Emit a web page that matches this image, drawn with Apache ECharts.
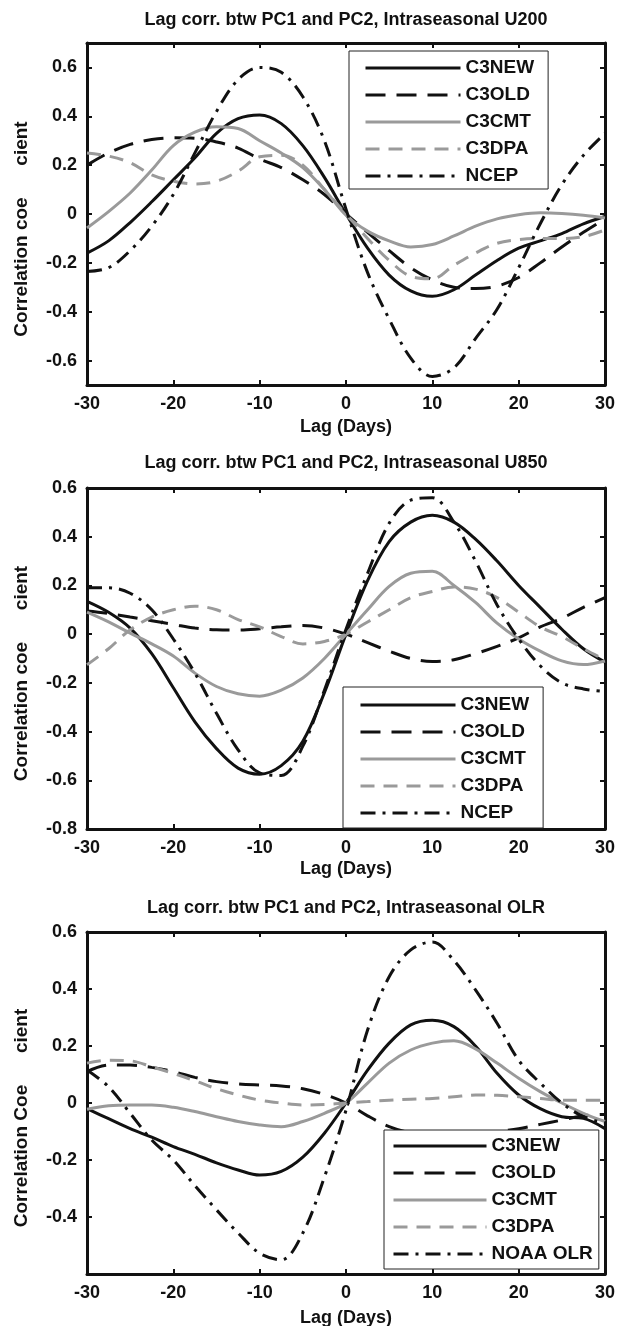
<!DOCTYPE html>
<html>
<head>
<meta charset="utf-8">
<script src="https://cdn.jsdelivr.net/npm/echarts@6/dist/echarts.min.js"></script>
<style>
html,body{margin:0;padding:0;background:#fff;}
#chart{width:617px;height:1326px;}
</style>
</head>
<body>
<div id="chart"></div>
<script>
// ---------- DATA ----------
var lags = [-30,-27.5,-25,-22.5,-20,-17.5,-15,-12.5,-10,-7.5,-5,-2.5,0,2.5,5,7.5,10,12.5,15,17.5,20,22.5,25,27.5,30];
var xTicks = [-30,-20,-10,0,10,20,30];

var titles = [
  'Lag corr. btw PC1 and PC2, Intraseasonal U200',
  'Lag corr. btw PC1 and PC2, Intraseasonal U850',
  'Lag corr. btw PC1 and PC2, Intraseasonal OLR'
];
var yNames = ['Correlation coe      cient', 'Correlation coe      cient', 'Correlation Coe      cient'];
var seriesNames1 = ['C3NEW','C3OLD','C3CMT','C3DPA','NCEP'];
var seriesNames2 = ['C3NEW','C3OLD','C3CMT','C3DPA','NCEP'];
var seriesNames3 = ['C3NEW','C3OLD','C3CMT','C3DPA','NOAA OLR'];

var yTicks1 = [-0.6,-0.4,-0.2,0,0.2,0.4,0.6];
var yTicks2 = [-0.8,-0.6,-0.4,-0.2,0,0.2,0.4,0.6];
var yTicks3 = [-0.4,-0.2,0,0.2,0.4,0.6];

// Panel 1: U200
var u200_C3NEW = [-0.16,-0.11,-0.035,0.05,0.14,0.23,0.33,0.39,0.405,0.37,0.28,0.15,0.0,-0.14,-0.25,-0.315,-0.337,-0.31,-0.25,-0.19,-0.14,-0.11,-0.08,-0.04,-0.01];
var u200_C3OLD = [0.2,0.25,0.285,0.305,0.312,0.31,0.295,0.27,0.225,0.19,0.14,0.08,0.0,-0.075,-0.15,-0.22,-0.27,-0.3,-0.305,-0.295,-0.26,-0.2,-0.135,-0.075,-0.02];
var u200_C3CMT = [-0.057,0.01,0.086,0.18,0.28,0.335,0.357,0.35,0.3,0.25,0.19,0.1,-0.005,-0.07,-0.11,-0.135,-0.125,-0.09,-0.05,-0.02,-0.003,0.005,0.002,-0.005,-0.016];
var u200_C3DPA = [0.25,0.237,0.21,0.16,0.134,0.123,0.134,0.175,0.234,0.24,0.2,0.1,0.0,-0.1,-0.19,-0.255,-0.265,-0.21,-0.16,-0.12,-0.105,-0.1,-0.1,-0.093,-0.065];
var u200_NCEP  = [-0.235,-0.22,-0.15,-0.05,0.08,0.25,0.42,0.55,0.6,0.58,0.48,0.3,0.02,-0.24,-0.43,-0.59,-0.665,-0.63,-0.51,-0.39,-0.22,-0.04,0.12,0.24,0.33];

// Panel 2: U850
var u850_C3NEW = [0.135,0.09,0.025,-0.08,-0.22,-0.36,-0.47,-0.55,-0.575,-0.54,-0.44,-0.24,0.0,0.22,0.38,0.46,0.488,0.46,0.39,0.3,0.2,0.11,0.02,-0.06,-0.115];
var u850_C3OLD = [0.095,0.085,0.07,0.055,0.04,0.025,0.018,0.017,0.022,0.03,0.035,0.025,0.0,-0.035,-0.07,-0.1,-0.112,-0.105,-0.08,-0.05,-0.015,0.03,0.065,0.11,0.15];
var u850_C3CMT = [0.09,0.05,0.004,-0.04,-0.09,-0.16,-0.215,-0.245,-0.255,-0.23,-0.18,-0.1,0.0,0.1,0.196,0.25,0.258,0.2,0.13,0.045,-0.02,-0.07,-0.11,-0.125,-0.11];
var u850_C3DPA = [-0.126,-0.06,0.018,0.07,0.1,0.115,0.1,0.06,0.03,-0.01,-0.04,-0.03,0.0,0.05,0.1,0.15,0.175,0.194,0.185,0.15,0.09,0.03,-0.01,-0.06,-0.105];
var u850_NCEP  = [0.19,0.19,0.168,0.1,-0.02,-0.16,-0.325,-0.475,-0.57,-0.58,-0.46,-0.23,0.02,0.25,0.455,0.55,0.56,0.46,0.3,0.12,-0.02,-0.13,-0.2,-0.225,-0.235];

// Panel 3: OLR
var olr_C3NEW = [-0.02,-0.055,-0.09,-0.12,-0.153,-0.18,-0.21,-0.235,-0.253,-0.24,-0.19,-0.106,0.0,0.115,0.21,0.274,0.29,0.268,0.2,0.104,0.028,-0.02,-0.048,-0.054,-0.09];
var olr_C3OLD = [0.11,0.133,0.133,0.125,0.11,0.09,0.075,0.067,0.063,0.06,0.05,0.03,0.0,-0.045,-0.083,-0.105,-0.115,-0.115,-0.11,-0.1,-0.09,-0.075,-0.06,-0.045,-0.04];
var olr_C3CMT = [-0.022,-0.01,-0.007,-0.007,-0.015,-0.03,-0.048,-0.065,-0.077,-0.083,-0.065,-0.036,0.0,0.07,0.14,0.186,0.21,0.218,0.19,0.14,0.087,0.04,0.0,-0.036,-0.065];
var olr_C3DPA = [0.14,0.15,0.148,0.127,0.104,0.078,0.05,0.028,0.01,0.0,-0.007,-0.005,0.0,0.005,0.01,0.013,0.016,0.022,0.028,0.027,0.022,0.016,0.01,0.01,0.01];
var olr_NOAA  = [0.116,0.057,-0.036,-0.13,-0.2,-0.29,-0.375,-0.456,-0.527,-0.55,-0.456,-0.26,-0.025,0.256,0.443,0.537,0.565,0.5,0.397,0.28,0.15,0.07,0.0,-0.048,-0.07];

// ---------- STYLE ----------
var FONT = '"Liberation Sans", Arial, Helvetica, sans-serif';
var BLACK = '#111111';
var GRAY = '#9a9a9a';
var styles = [
  {color: BLACK, type: 'solid'},
  {color: BLACK, type: [20, 11]},
  {color: GRAY,  type: 'solid'},
  {color: GRAY,  type: [14, 9]},
  {color: BLACK, type: [15, 7, 3, 7]}
];

var panels = [
  {top: 43, height: 342, min: -0.7, max: 0.7, ticks: yTicks1, names: seriesNames1,
   data: [u200_C3NEW,u200_C3OLD,u200_C3CMT,u200_C3DPA,u200_NCEP],
   titleTop: 11, legend: {left: 349, top: 51, padding: [7, 14, 3, 15]}, nameGap: 33},
  {top: 488, height: 341, min: -0.8, max: 0.6, ticks: yTicks2, names: seriesNames2,
   data: [u850_C3NEW,u850_C3OLD,u850_C3CMT,u850_C3DPA,u850_NCEP],
   titleTop: 454, legend: {left: 343, top: 687, padding: [8, 14, 5, 16]}, nameGap: 31},
  {top: 932, height: 342, min: -0.6, max: 0.6, ticks: yTicks3, names: seriesNames3,
   data: [olr_C3NEW,olr_C3OLD,olr_C3CMT,olr_C3DPA,olr_NOAA],
   titleTop: 899, legend: {left: 384, top: 1130, padding: [6, 6, 5, 8]}, nameGap: 35}
];

function fmt(v){ var r = Math.round(v*10)/10; return (r === 0 ? '0' : String(r)); }

var option = {
  animation: false,
  backgroundColor: '#ffffff',
  textStyle: {fontFamily: FONT},
  title: [], grid: [], xAxis: [], yAxis: [], series: [], legend: []
};

panels.forEach(function(p, i){
  option.title.push({
    text: titles[i], left: 346, top: p.titleTop, textAlign: 'center', padding: 0,
    textStyle: {fontFamily: FONT, fontSize: 18, fontWeight: 'bold', color: BLACK}
  });
  option.grid.push({left: 87, top: p.top, width: 518, height: p.height, show: false, outerBoundsMode: 'none'});
  var lineAx = {show: true, onZero: false, lineStyle: {color: BLACK, width: 3}};
  option.xAxis.push({
    type: 'value', gridIndex: i, min: -30, max: 30, interval: 10, position: 'bottom',
    axisLine: lineAx,
    axisTick: {show: true, inside: true, length: 5, lineStyle: {color: BLACK, width: 2}},
    axisLabel: {color: BLACK, fontSize: 18, fontWeight: 'bold', fontFamily: FONT, margin: 10,
                customValues: xTicks, formatter: function(v){return String(v);}},
    splitLine: {show: false},
    name: 'Lag (Days)', nameLocation: 'middle', nameGap: p.nameGap,
    nameTextStyle: {color: BLACK, fontSize: 18, fontWeight: 'bold', fontFamily: FONT}
  });
  option.xAxis.push({
    type: 'value', gridIndex: i, min: -30, max: 30, interval: 10, position: 'top',
    axisLine: lineAx,
    axisTick: {show: true, inside: true, length: 5, lineStyle: {color: BLACK, width: 2}},
    axisLabel: {show: false}, splitLine: {show: false}
  });
  option.yAxis.push({
    type: 'value', gridIndex: i, min: p.min, max: p.max, position: 'left',
    axisLine: lineAx,
    axisTick: {show: true, inside: true, length: 5, customValues: p.ticks, lineStyle: {color: BLACK, width: 2}},
    axisLabel: {color: BLACK, fontSize: 18, fontWeight: 'bold', fontFamily: FONT, margin: 10,
                customValues: p.ticks, formatter: fmt},
    splitLine: {show: false},
    name: yNames[i], nameLocation: 'middle', nameGap: 56, nameRotate: 90,
    nameTextStyle: {color: BLACK, fontSize: 19, fontWeight: 'bold', fontFamily: FONT, padding: [0, 30, 0, 0]}
  });
  option.yAxis.push({
    type: 'value', gridIndex: i, min: p.min, max: p.max, position: 'right',
    axisLine: lineAx,
    axisTick: {show: true, inside: true, length: 5, customValues: p.ticks, lineStyle: {color: BLACK, width: 2}},
    axisLabel: {show: false}, splitLine: {show: false}
  });
  p.names.forEach(function(nm, k){
    option.series.push({
      type: 'line', name: nm, xAxisIndex: 2*i, yAxisIndex: 2*i,
      data: lags.map(function(l, j){ return [l, p.data[k][j]]; }),
      symbol: 'none', showSymbol: false, smooth: 0.35,
      lineStyle: {color: styles[k].color, width: 3, type: styles[k].type, cap: 'butt'},
      itemStyle: {color: styles[k].color},
      z: 2 + k
    });
  });
  option.legend.push({
    data: p.names, left: p.legend.left, top: p.legend.top, orient: 'vertical',
    padding: p.legend.padding, itemGap: 7, itemWidth: (i === 2 ? 93 : 95), itemHeight: 14,
    selectedMode: false, backgroundColor: '#ffffff', borderColor: '#222', borderWidth: 1,
    itemStyle: {opacity: 0, borderWidth: 0},
    lineStyle: {width: 3, cap: 'butt'},
    textStyle: {color: BLACK, fontSize: 19, fontWeight: 'bold', fontFamily: FONT, lineHeight: 20},
    z: 10
  });
});

var chart = echarts.init(document.getElementById('chart'), null, {renderer: 'canvas'});
chart.setOption(option);
</script>
</body>
</html>
